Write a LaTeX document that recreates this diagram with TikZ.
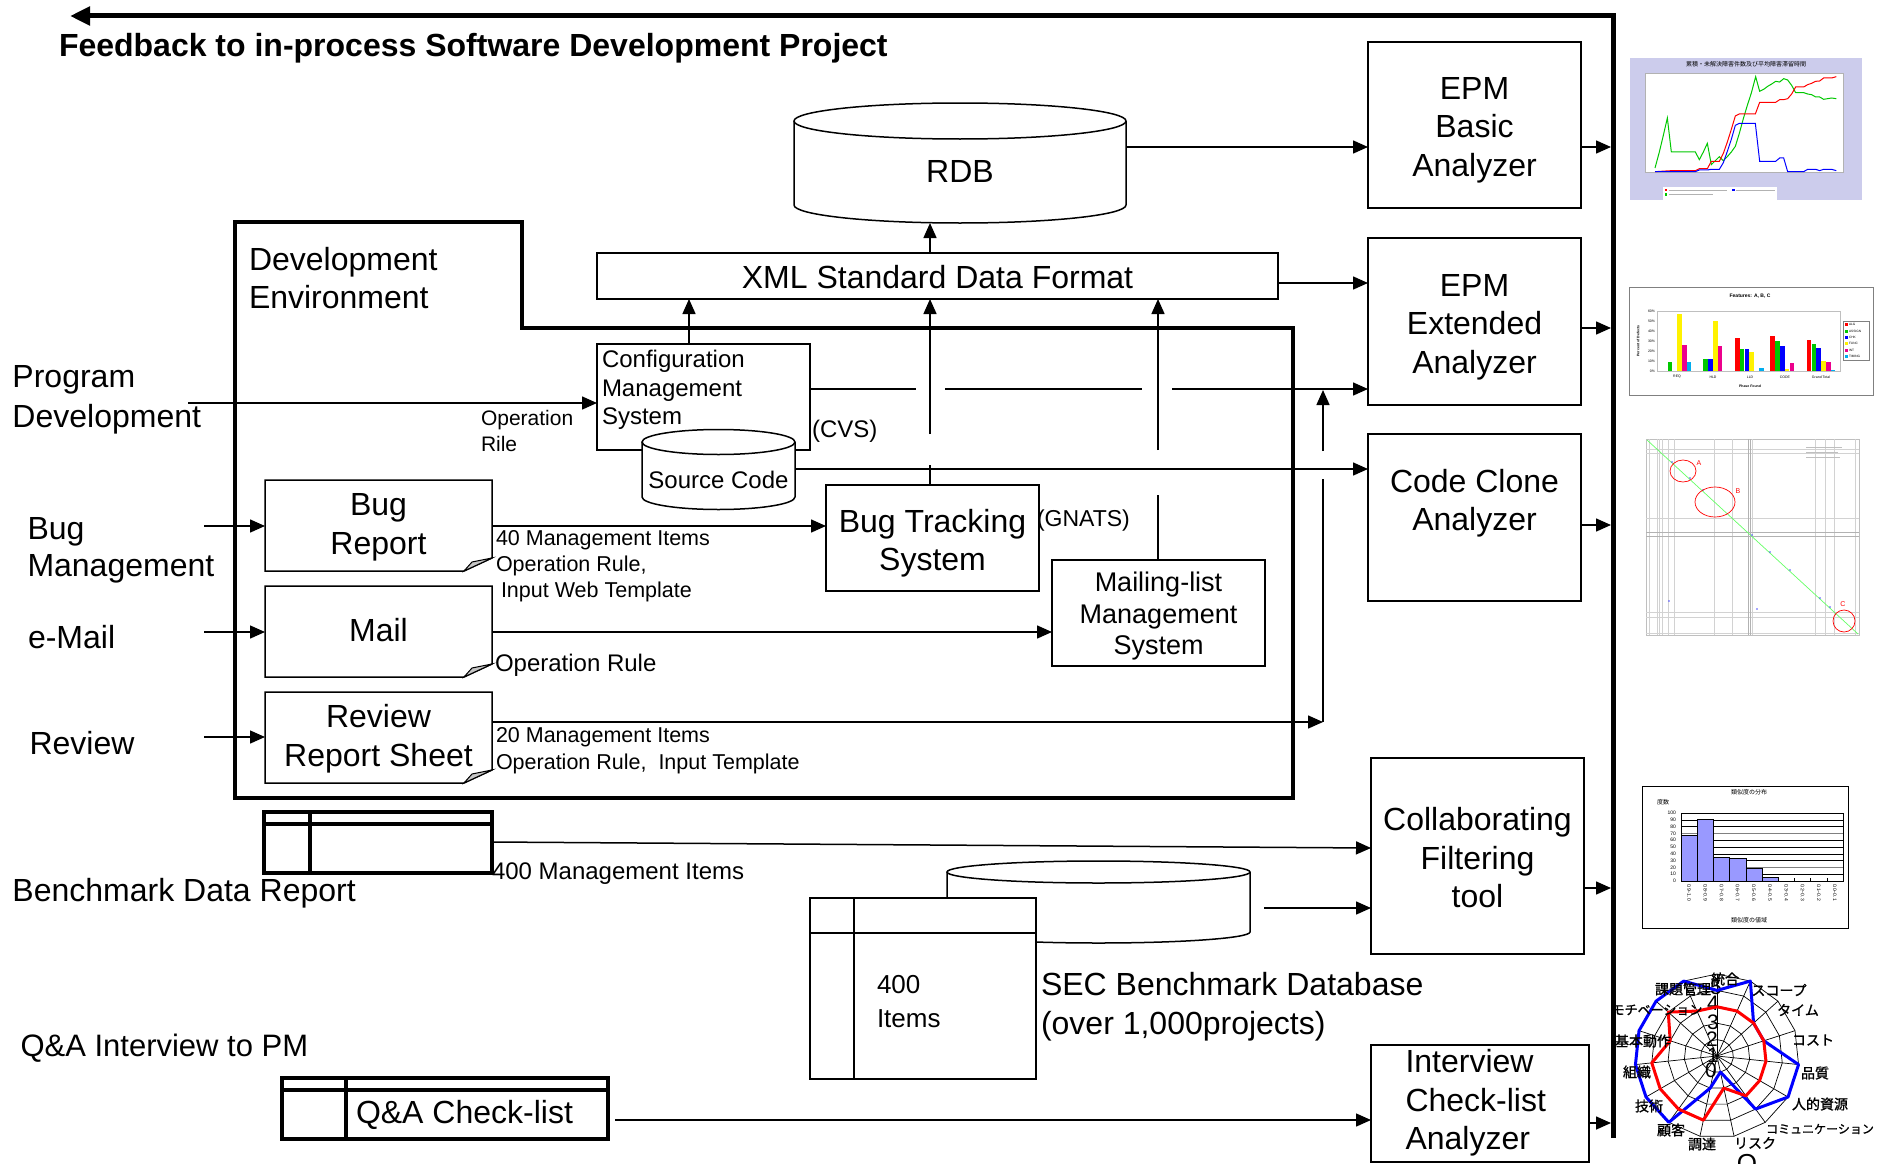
\documentclass[tikz,border=0pt]{standalone}
\usepackage{fontspec}
\setmainfont{Liberation Sans}
\newfontfamily\jp{Noto Sans CJK JP}
\newfontfamily\jpb{Noto Sans CJK JP}[FakeBold=1.2]
\usetikzlibrary{arrows.meta,calc}
\newcommand{\fs}[2]{\fontsize{#1}{#2}\selectfont}
\definecolor{lav}{RGB}{204,204,236}
\definecolor{histbar}{RGB}{153,153,255}
\definecolor{cgreen}{RGB}{0,200,0}
\begin{document}
\begin{tikzpicture}[x=1pt,y=-1pt,
  every node/.style={inner sep=0pt, outer sep=0pt},
  box/.style={draw, line width=1.5pt, fill=white},
  ln/.style={line width=1.5pt},
  arr/.style={line width=1.5pt, -{Triangle[length=15pt,width=13pt]}},
  big/.style={font=\fs{32}{38.5}, align=center},
  mid/.style={font=\fs{24}{28.5}},
  sml/.style={font=\fs{21.5}{26}, align=left},
  tbl/.style={line width=3.5pt},
  jpl/.style={font=\jpb\fs{14}{14}},
  tiny/.style={font=\fs{3.5}{4}},
]
\useasboundingbox (0,0) rectangle (1898,1164);
\fill[white] (0,0) rectangle (1898,1164);

% ---------------- feedback line ----------------
\coordinate (fbstart) at (1613,1138);
\coordinate (fbend) at (70,16);
\draw[line width=5pt, -{Triangle[length=20pt,width=18pt]}] (fbstart) -- (1613,16) -- (fbend);
\node[anchor=west, font=\fs{32}{38}\bfseries] (title) at (59,48.5) {Feedback to in-process Software Development Project};

% ---------------- development environment ----------------
\draw[line width=4pt] (235,222) -- (522,222) -- (522,328) -- (1293,328) -- (1293,798) -- (235,798) -- cycle;
\node[big, align=left, anchor=west] (devenv) at (249,278) {Development\\Environment};

% ---------------- RDB ----------------
\draw[ln, fill=white] (794,121) -- (794,205) arc[start angle=180, end angle=360, x radius=166pt, y radius=18pt] -- (1126,121);
\draw[ln, fill=white] (960,121) ellipse[x radius=166pt, y radius=18pt];
\node[big] (rdb) at (960,171) {RDB};

% ---------------- boxes ----------------
\node[box, minimum width=681pt, minimum height=46pt] (xml) at (937.5,276) {};
\node[big] (xmlt) at (937.5,277) {XML Standard Data Format};
\node[box, minimum width=213pt, minimum height=166pt] (epmb) at (1474.5,125) {};
\node[big] (epmbt) at (1474.5,130) {EPM\\Basic\\Analyzer};
\node[box, minimum width=213pt, minimum height=167pt] (epmx) at (1474.5,321.5) {};
\node[big] (epmxt) at (1474.5,327) {EPM\\Extended\\Analyzer};
\node[box, minimum width=213pt, minimum height=167pt] (ccb) at (1474.5,517.5) {};
\node[big] (cct) at (1474.5,503) {Code Clone\\Analyzer};
\node[box, minimum width=213pt, minimum height=196pt] (cft) at (1477.5,856) {};
\node[big] (cftt) at (1477.5,858) {Collaborating\\Filtering\\tool};
\node[box, minimum width=218pt, minimum height=117pt] (icb) at (1480,1103.5) {};
\node[big, align=left, anchor=west] (ict) at (1405.5,1103) {Interview\\Check-list\\Analyzer};

\node[box, minimum width=213pt, minimum height=106pt] (cms) at (703.5,397) {};
\node[mid, align=left, anchor=west] (cmst) at (602,390) {Configuration\\Management\\System};
\draw[ln, fill=white] (642,442) -- (642,497) arc[start angle=180, end angle=360, x radius=76.5pt, y radius=12.5pt] -- (795,442);
\draw[ln, fill=white] (718.5,442) ellipse[x radius=76.5pt, y radius=12.5pt];
\node[mid] (src) at (718.5,480) {Source Code};
\node[mid, anchor=west] (cvs) at (812,431.5) {(CVS)};

\node[box, minimum width=213pt, minimum height=106pt] (bts) at (932.5,538) {};
\node[big] (btst) at (932.5,543) {Bug Tracking\\System};
\node[font=\fs{23}{28}, anchor=west] (gnats) at (1037,520.5) {(GNATS)};
\node[box, minimum width=213pt, minimum height=106pt] (mlm) at (1158.5,613) {};
\node[font=\fs{27}{31.5}, align=center] (mlmt) at (1158.5,616.5) {Mailing-list\\Management\\System};

% ---------------- documents ----------------
\newcommand{\docnode}[3]{%
  \node[minimum width=227pt, minimum height=91pt] (#1) at (#2,#3) {};
  \draw[ln, fill=white] (#1.north west) -- (#1.north east) -- ([yshift=13pt]#1.south east) -- ([xshift=-28pt]#1.south east) -- (#1.south west) -- cycle;
  \draw[line width=1pt, fill=gray!45] ([xshift=-28pt]#1.south east) -- ([xshift=-20pt,yshift=9pt]#1.south east) -- ([yshift=13pt]#1.south east) -- cycle;
}
\docnode{bugr}{378.5}{525.5}
\docnode{mail}{378.5}{631.5}
\docnode{rrs}{378.5}{737.5}
\node[big] (bugrt) at (378.5,527.5) {Bug\\Report};
\node[big] (mailt) at (378.5,630.5) {Mail};
\node[big] (rrst) at (378.5,738.5) {Review\\Report Sheet};

% ---------------- left labels ----------------
\node[big, align=left, anchor=west, font=\fs{32}{40}] (progdev) at (12.5,399.5) {Program\\Development};
\node[big, align=left, anchor=west, font=\fs{32}{37}] (bugman) at (27.5,550.5) {Bug\\Management};
\node[big, anchor=west] (email) at (28,637.5) {e-Mail};
\node[big, anchor=west] (review) at (29.5,743) {Review};
\node[big, anchor=west] (bdrl) at (12.5,893.5) {Benchmark Data Report};
\node[font=\fs{31}{36}, anchor=west] (qal) at (20.5,1048.5) {Q\&A Interview to PM};

% ---------------- small labels ----------------
\node[font=\fs{21}{26}, align=left, anchor=west] (oprile) at (481,430.5) {Operation\\Rile};
\node[sml, anchor=west] (l40) at (496,566.5) {40 Management Items\\Operation Rule,\\\hspace{5pt}Input Web Template};
\node[mid, anchor=west] (lop) at (495,665.5) {Operation Rule};
\node[sml, anchor=west, font=\fs{21.5}{27}] (l20) at (496,751) {20 Management Items\\Operation Rule,\ \ Input Template};
\node[font=\fs{24}{28}, anchor=west] (l400) at (492,873.5) {400 Management Items};

% ---------------- benchmark data ----------------
\draw[tbl, fill=white] (264,812) rectangle (492,873);
\draw[tbl] (264,824) -- (492,824);
\draw[tbl] (310,812) -- (310,873);
\coordinate (bdr) at (492,842);

\draw[ln, fill=white] (947,872) -- (947,932) arc[start angle=180, end angle=360, x radius=151.5pt, y radius=11pt] -- (1250,872);
\draw[ln, fill=white] (1098.5,872) ellipse[x radius=151.5pt, y radius=11pt];
\coordinate (sec) at (1264,908);
\draw[ln, fill=white] (810,898) rectangle (1036,1079);
\draw[ln] (810,933) -- (1036,933);
\draw[ln] (854,898) -- (854,1079);
\node[font=\fs{26}{34}, align=left, anchor=west] (items) at (877,1002) {400\\Items};
\node[font=\fs{32}{38.5}, align=left, anchor=west] (secl) at (1041,1006.5) {SEC Benchmark Database\\(over 1,000projects)};

\draw[tbl, fill=white] (282,1078) rectangle (608,1139);
\draw[tbl] (282,1090) -- (608,1090);
\draw[tbl] (346,1078) -- (346,1139);
\node[big, anchor=west] (qa) at (356,1114.5) {Q\&A Check-list};
\coordinate (qar) at (615,1120);

% ---------------- connectors ----------------
\draw[arr] (1126,147) -- (epmb.west |- 0,147);
\draw[arr] (xml.east |- 0,283) -- (epmx.west |- 0,283);
\draw[arr] (xml.north -| 930,0) -- (930,223);
\draw[arr] (cms.north -| 689,0) -- (xml.south -| 689,0);
\draw[ln] (bts.north -| 930,0) -- (930,465);
\draw[arr] (930,434) -- (xml.south -| 930,0);
\draw[ln] (mlm.north -| 1158,0) -- (1158,495);
\draw[arr] (1158,450) -- (xml.south -| 1158,0);
\draw[ln] (cms.east |- 0,389) -- (916,389);
\draw[ln] (945,389) -- (1142,389);
\draw[arr] (1172,389) -- (epmx.west |- 0,389);
\draw[arr] (795,469) -- (ccb.west |- 0,469);

\draw[arr] (188,403) -- (cms.west |- 0,403);
\draw[arr] (204,526) -- (bugr.west |- 0,526);
\draw[arr] (bugr.east |- 0,526) -- (bts.west |- 0,526);
\draw[arr] (204,632) -- (mail.west |- 0,632);
\draw[arr] (mail.east |- 0,632) -- (mlm.west |- 0,632);
\draw[arr] (204,737) -- (rrs.west |- 0,737);
\draw[arr] (rrs.east |- 0,722) -- (1323,722);
\draw[ln] (1323,722) -- (1323,479);
\draw[arr] (1323,451) -- (1323,390);

\draw[arr] (epmb.east |- 0,147) -- (1611,147);
\draw[arr] (epmx.east |- 0,328) -- (1611,328);
\draw[arr] (ccb.east |- 0,525) -- (1611,525);
\draw[arr] (cft.east |- 0,888) -- (1611,888);
\draw[arr] (icb.east |- 0,1123) -- (1611,1123);

\draw[arr] (bdr) -- (cft.west |- 0,848);
\draw[arr] (sec) -- (cft.west |- 0,908);
\draw[arr] (qar) -- (icb.west |- 0,1120);

% ---------------- chart 1 (line chart) ----------------
\begin{scope}[shift={(1630,58)}, x=0.3333pt, y=-0.3333pt]
  \fill[lav] (0,0) rectangle (696,426);
  \draw[gray!60, fill=white, line width=0.4pt] (45,45) rectangle (640,343);
  \node[font=\jp\fs{6}{6}] (c1t) at (348,20) {累積・未解決障害件数及び平均障害滞留時間};
  \draw[cgreen, line width=1pt] plot coordinates {(75,330) (88,282) (100,232) (112,180) (124,282) (196,282) (208,305) (220,282) (232,256) (244,320) (256,308) (268,296) (280,308) (292,296) (304,282) (316,265) (328,226) (340,182) (352,142) (364,105) (377,56) (389,100) (401,94) (413,85) (425,78) (437,70) (449,72) (461,62) (473,66) (485,82) (497,104) (521,104) (533,108) (545,110) (557,117) (569,117) (581,124) (593,122) (605,120) (619,122)};
  \draw[red, line width=1pt] plot coordinates {(75,341) (124,338) (196,338) (208,332) (232,332) (244,310) (268,310) (280,286) (292,252) (304,214) (316,174) (328,168) (376,168) (389,133) (437,133) (449,125) (461,125) (473,122) (485,108) (497,87) (521,87) (533,80) (545,76) (557,70) (569,69) (581,60) (605,60) (619,56)};
  \draw[blue, line width=1pt] plot coordinates {(75,341) (196,341) (208,336) (232,336) (244,334) (268,334) (280,314) (292,280) (304,244) (316,202) (328,196) (376,196) (389,310) (437,310) (449,300) (461,300) (473,341) (521,341) (533,334) (557,334) (569,338) (581,334) (605,334) (619,338)};
  \fill[white] (100,388) rectangle (440,426);
  \fill[red] (104,392) rectangle (112,400);
  \draw[gray!60, line width=0.8pt] (116,396) -- (290,396);
  \fill[blue] (306,392) rectangle (314,400);
  \draw[gray!60, line width=0.8pt] (318,396) -- (436,396);
  \fill[cgreen] (104,405) rectangle (112,413);
  \draw[gray!60, line width=0.8pt] (116,409) -- (250,409);
\end{scope}

% ---------------- chart 2 (bar chart) ----------------
\draw[gray, line width=0.8pt, fill=white] (1629,287) rectangle (1873,395);
\node[font=\bfseries\fs{5}{5}] (c2t) at (1750,296) {Features: A, B, C};
\draw[gray!50, line width=0.6pt] (1657,311) rectangle (1840,371);
\foreach \v/\t in {0/0\%,10/10\%,20/20\%,30/30\%,40/40\%,50/50\%,60/60\%}
  \node[tiny, anchor=east] at (1655,371-\v) {\t};
\foreach \x/\s/\v/\c in {
  1662.8/1/9/cgreen, 1662.8/3/57/yellow, 1662.8/4/26/magenta, 1662.8/5/9/cyan,
  1698.5/1/12/cgreen, 1698.5/2/12/blue, 1698.5/3/50/yellow, 1698.5/4/25/magenta,
  1735/0/33/red, 1735/1/22/cgreen, 1735/2/22/blue, 1735/3/19/yellow, 1735/5/3/cyan,
  1770.4/0/35/red, 1770.4/1/30/cgreen, 1770.4/2/25/blue, 1770.4/3/2/yellow, 1770.4/4/8/magenta,
  1806.8/0/31/red, 1806.8/1/27/cgreen, 1806.8/2/23/blue, 1806.8/3/10/yellow, 1806.8/4/9/magenta, 1806.8/5/1/cyan}
  \fill[\c] (\x+\s*4.8,371) rectangle (\x+\s*4.8+4.6,371-\v);
\foreach \x/\t in {1677/REQ,1713/HLD,1750/LLD,1785/CODE,1821/Grand Total}
  \node[tiny] at (\x,377) {\t};
\node[tiny, font=\bfseries\fs{3.5}{4}] (c2x) at (1750,386) {Phase Found};
\node[tiny, font=\bfseries\fs{3.5}{4}, rotate=90] (c2y) at (1638,341) {Percent of Defects};
\draw[gray, line width=0.4pt] (1843,321) rectangle (1869,360);
\foreach \c/\t [count=\k] in {red/ALG,cgreen/ASSIGN,blue/CHK,yellow/FUNC,magenta/INT,cyan/TIMING} {
  \fill[\c] (1845,317+6.3*\k) rectangle ++(3,3);
  \node[anchor=west, font=\fs{3.2}{4}] at (1849,318.5+6.3*\k) {\t};
}

% ---------------- chart 3 (code clone) ----------------
\draw[gray!50, line width=0.6pt, fill=white] (1646,439) rectangle (1859,635);
\foreach \x in {1649.5,1656.8,1659.5,1661.8,1668.7,1674.4,1714.1,1732.3,1752.2,1815.1,1825,1834.3,1854.8}
  \draw[gray!35, line width=0.5pt] (\x,439) -- (\x,635);
\foreach \y in {449,453,518,612,617,633}
  \draw[gray!35, line width=0.5pt] (1646,\y) -- (1859,\y);
\draw[gray!60, line width=0.6pt] (1748.2,439) -- (1748.2,635);
\draw[gray!60, line width=0.6pt] (1750.5,439) -- (1750.5,635);
\draw[gray!60, line width=0.6pt] (1646,532) -- (1859,532);
\draw[gray!60, line width=0.6pt] (1646,536) -- (1859,536);
\draw[gray!50, line width=0.7pt] (1806,447) -- (1842,447);
\draw[gray!50, line width=0.7pt] (1806,452) -- (1838,452);
\draw[gray!50, line width=0.7pt] (1806,457) -- (1840,457);
\draw[green!60, line width=0.7pt] (1647,440) -- (1858,634);
\foreach \p in {(1672,462),(1690,478),(1703,490),(1752,535),(1770,552),(1790,570),(1820,598),(1830,607),(1669,601),(1757,609)}
  \fill[blue!70] \p circle[radius=0.8pt];
\draw[red, line width=0.7pt] (1683,471) ellipse[x radius=13pt, y radius=11pt];
\draw[red, line width=0.7pt] (1715,502) ellipse[x radius=20pt, y radius=15pt];
\draw[red, line width=0.7pt] (1844,621) ellipse[x radius=11pt, y radius=11pt];
\node[text=red, font=\fs{7}{7}] (ca) at (1699,463) {A};
\node[text=red, font=\fs{7}{7}] (cb) at (1738,491) {B};
\node[text=red, font=\fs{7}{7}] (cc) at (1843,604) {C};

% ---------------- chart 4 (histogram) ----------------
\draw[line width=0.9pt, fill=white] (1642,786) rectangle (1848,928);
\node[font=\jp\fs{6}{6}] (c4t) at (1749,792) {類似度の分布};
\node[font=\jp\fs{6}{6}] (c4y) at (1663,802) {度数};
\foreach \k in {1,...,9}
  \draw[line width=0.6pt] (1681,881-6.8*\k) -- (1843,881-6.8*\k);
\draw[gray, line width=1.5pt] (1681,833.4) -- (1843,833.4);
\draw[gray, line width=1.5pt] (1681,867.4) -- (1843,867.4);
\foreach \i/\v in {0/67,1/91,2/35,3/33,4/18,5/5}
  \draw[fill=histbar, line width=0.6pt] (1681+16.2*\i,881) rectangle (1681+16.2*\i+16.2,881-0.68*\v);
\foreach \i in {1,...,9}
  \draw[line width=0.6pt] (1681+16.2*\i,881) -- (1681+16.2*\i,878);
\draw[line width=0.8pt] (1681,813) rectangle (1843,881);
\foreach \k/\t in {0/0,1/10,2/20,3/30,4/40,5/50,6/60,7/70,8/80,9/90,10/100}
  \node[anchor=east, font=\fs{5}{5}] at (1676,881-6.8*\k) {\t};
\foreach \i/\a/\b in {0/0.9/1.0,1/0.8/0.9,2/0.7/0.8,3/0.6/0.7,4/0.5/0.6,5/0.4/0.5,6/0.3/0.4,7/0.2/0.3,8/0.1/0.2,9/0.0/0.1}
  \node[rotate=-90, anchor=west, font=\fs{5}{5}] at (1689.1+16.2*\i,884) {\a\textasciitilde\b};
\node[font=\jp\fs{6}{6}] (c4x) at (1749,920) {類似度の値域};

% ---------------- radar chart ----------------
\begin{scope}[shift={(1717,1056)}]
  \foreach \r in {16.4pt,32.8pt,49.2pt,65.6pt,82pt}
    \draw[line width=0.7pt] (90:\r) \foreach \i in {1,...,14}{ -- (90-24*\i:\r)} -- cycle;
  \foreach \i in {0,...,14}
    \draw[line width=0.7pt] (0,0) -- (90-24*\i:82pt);
\end{scope}
\node[font=\fs{21}{21}] (r0) at (1711,1070) {0};
\node[font=\fs{21}{21}] (r1) at (1713,1055) {1};
\node[font=\fs{21}{21}] (r2) at (1712,1039) {2};
\node[font=\fs{21}{21}] (r3) at (1713,1022) {3};
\node[font=\fs{21}{21}] (r4) at (1713,1003) {4};
\node[font=\fs{21}{21}] (r5) at (1716,987) {5};
\begin{scope}[shift={(1717,1056)}]
  \draw[blue, line width=3pt, line join=round] (90:65.6pt) -- (66:82pt) -- (42:49.2pt) -- (18:49.2pt) -- (-6:82pt) -- (-30:82pt) -- (-54:65.6pt) -- (-78:16.4pt) -- (-102:32.8pt) -- (-126:82pt) -- (-150:82pt) -- (-174:82pt) -- (162:82pt) -- (138:82pt) -- (114:82pt) -- cycle;
  \draw[red, line width=3pt, line join=round] (90:49.2pt) -- (66:49.2pt) -- (42:49.2pt) -- (18:49.2pt) -- (-6:49.2pt) -- (-30:49.2pt) -- (-54:49.2pt) -- (-78:32.8pt) -- (-102:65.6pt) -- (-126:65.6pt) -- (-150:65.6pt) -- (-174:65.6pt) -- (162:49.2pt) -- (138:65.6pt) -- (114:49.2pt) -- cycle;
\end{scope}
\node[jpl] (t1) at (1725,979) {統合};
\node[jpl] (t2) at (1779,990) {スコープ};
\node[jpl] (t3) at (1798,1010) {タイム};
\node[jpl] (t4) at (1813,1040) {コスト};
\node[jpl] (t5) at (1815,1073) {品質};
\node[jpl] (t6) at (1820,1104) {人的資源};
\node[jpl, font=\jpb\fs{12}{12}] (t7) at (1820,1129) {コミュニケーション};
\node[jpl] (t8) at (1755,1143) {リスク};
\node[jpl] (t9) at (1702,1144) {調達};
\node[jpl] (t10) at (1671,1130) {顧客};
\node[jpl] (t11) at (1649,1106) {技術};
\node[jpl] (t12) at (1637,1072) {組織};
\node[jpl] (t13) at (1643,1041) {基本動作};
\node[jpl, font=\jpb\fs{13}{13}] (t14) at (1657,1010) {モチベーション};
\node[jpl] (t15) at (1683,989) {課題管理};
\node[anchor=north, font=\fs{26}{26}] (cut) at (1747,1154) {O};
\end{tikzpicture}
\end{document}
